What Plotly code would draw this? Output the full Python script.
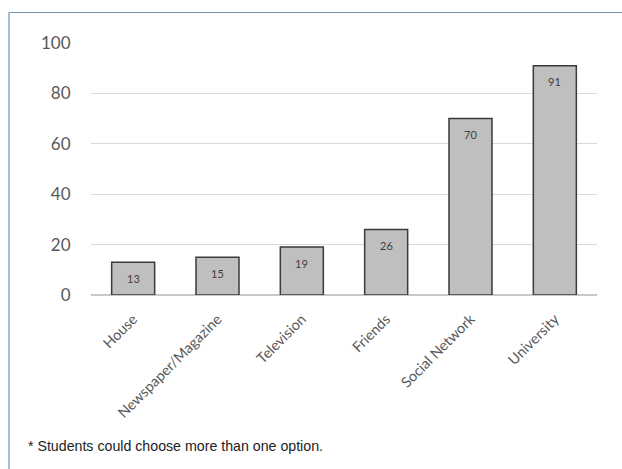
import plotly.graph_objects as go

categories = ["House", "Newspaper/Magazine", "Television", "Friends", "Social Network", "University"]
values = [13, 15, 19, 26, 70, 91]
y_ticks = [0, 20, 40, 60, 80, 100]
footnote = "* Students could choose more than one option."

W, H = 622, 469
L, R, T, B = 91, 25, 43, 174
pw = W - L - R
ph = H - T - B

fig = go.Figure()
fig.add_trace(go.Bar(
    x=categories, y=values, width=0.51,
    marker=dict(color="#bfbfbf", line=dict(color="#3a3a3a", width=1.5)),
    cliponaxis=False,
))

for c, v in zip(categories, values):
    fig.add_annotation(x=c, y=v, xref="x", yref="y", text=str(v), showarrow=False,
                       yshift=-16, yanchor="middle",
                       font=dict(family="Lato, Open Sans, sans-serif", size=11, color="#404040"))

def px_x(x):
    return (x - L) / pw

def px_y(y):
    return (H - B - y) / ph

fig.add_shape(type="line", xref="paper", yref="paper",
              x0=px_x(9), x1=px_x(640), y0=px_y(12.5), y1=px_y(12.5),
              line=dict(color="#7393b3", width=1.2))
fig.add_shape(type="line", xref="paper", yref="paper",
              x0=px_x(9), x1=px_x(9), y0=px_y(12.5), y1=px_y(480),
              line=dict(color="#7393b3", width=1.2))

fig.add_annotation(text=footnote, xref="paper", yref="paper",
                   x=px_x(26), y=px_y(446), xanchor="left", yanchor="middle",
                   showarrow=False,
                   font=dict(family="Liberation Sans, Arial, sans-serif", size=14.2, color="#222222"))

fig.update_layout(
    width=W, height=H,
    margin=dict(l=L, r=R, t=T, b=B),
    paper_bgcolor="white", plot_bgcolor="white",
    showlegend=False,
    xaxis=dict(tickangle=-45, showline=False, ticks="outside", ticklen=9, tickcolor="rgba(0,0,0,0)",
               tickfont=dict(family="Lato, Open Sans, sans-serif", size=14.5, color="#595959")),
    yaxis=dict(range=[0, 100], tickvals=y_ticks, showgrid=True, gridcolor="#d9d9d9", gridwidth=1,
               zeroline=True, zerolinecolor="#c8c8c8", zerolinewidth=1.5,
               ticks="outside", ticklen=16, tickcolor="rgba(0,0,0,0)",
               tickfont=dict(family="Lato, Open Sans, sans-serif", size=17, color="#595959")),
)

fig.write_html("out.html")
